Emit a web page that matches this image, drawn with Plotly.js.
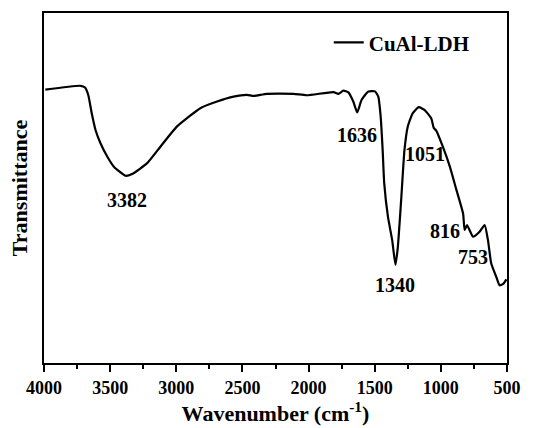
<!DOCTYPE html>
<html>
<head>
<meta charset="utf-8">
<script src="https://cdn.plot.ly/plotly-3.0.1.min.js"></script>
<style>html,body{margin:0;padding:0;background:#fff;}#chart{width:543px;height:428px;}</style>
</head>
<body>
<div id="chart"></div>
<script>
var seriesName = "CuAl-LDH";
var wavenumber = [3990, 3723, 3690, 3665, 3640, 3610, 3573, 3522, 3472, 3384, 3334, 3220, 3120, 2994, 2818, 2692, 2567, 2466, 2416, 2315, 2114, 2014, 1812, 1775, 1737, 1699, 1662, 1632, 1599, 1548, 1498, 1473, 1455, 1440, 1428, 1400, 1368, 1343, 1325, 1300, 1275, 1250, 1212, 1167, 1124, 1073, 1053, 1035, 985, 932, 882, 832, 820, 802, 757, 707, 669, 644, 619, 581, 556, 526, 505];
var transmittance = [78.1, 79.2, 78.7, 76.5, 71.5, 66.5, 62.8, 59.0, 56.1, 53.5, 54.0, 57.1, 61.8, 67.6, 72.8, 74.7, 76.1, 76.6, 76.3, 76.9, 76.9, 76.5, 77.4, 76.9, 77.8, 77.3, 74.7, 71.6, 75.2, 77.6, 77.6, 76.1, 70.4, 60.9, 51.3, 41.8, 35.1, 28.0, 33.2, 46.6, 60.9, 67.6, 71.4, 73.1, 72.3, 69.9, 67.1, 66.4, 61.8, 56.1, 49.4, 42.7, 38.0, 39.4, 36.1, 37.5, 39.4, 35.1, 28.4, 24.6, 22.2, 22.7, 23.9];
var peakLabels = ["3382", "1636", "1051", "1340", "816", "753"];
var peakLabelX = [3372, 1636, 1121, 1347, 970, 757];
var peakLabelY = [46.6, 65.2, 59.7, 22.2, 37.7, 30.3];
var xTickVals = [4000, 3500, 3000, 2500, 2000, 1500, 1000, 500];

var font = "Liberation Serif, Times New Roman, serif";
var annotations = peakLabels.map(function(t, i) {
  return {x: peakLabelX[i], y: peakLabelY[i], text: t, showarrow: false,
    font: {family: font, size: 20, color: "#000", weight: "bold"}};
});

var trace = {x: wavenumber, y: transmittance, type: "scatter", mode: "lines",
  name: seriesName, line: {color: "#000", width: 2.2, shape: "spline", smoothing: 0.5}};

var layout = {
  width: 543, height: 428,
  margin: {l: 44, r: 36, t: 13, b: 65},
  paper_bgcolor: "#fff", plot_bgcolor: "#fff",
  showlegend: true,
  legend: {x: 0.615, y: 0.915, xanchor: "left", yanchor: "middle", bgcolor: "rgba(0,0,0,0)",
    font: {family: font, size: 21, color: "#000", weight: "bold"}},
  xaxis: {range: [4000, 500], tickvals: xTickVals, ticks: "outside", ticklen: 7, tickwidth: 2,
    tickcolor: "#000", showline: true, linecolor: "#000", linewidth: 2, mirror: true,
    showgrid: false, zeroline: false,
    minor: {dtick: 250, tick0: 500, ticks: "outside", ticklen: 4, tickwidth: 2, tickcolor: "#000", showgrid: false},
    tickfont: {family: font, size: 18, color: "#000", weight: "bold"},
    title: {text: "Wavenumber (cm<sup>-1</sup>)", standoff: 8,
      font: {family: font, size: 22, color: "#000", weight: "bold"}}},
  yaxis: {range: [0, 100], showticklabels: false, ticks: "", showline: true, linecolor: "#000",
    linewidth: 2, mirror: true, showgrid: false, zeroline: false,
    title: {text: "Transmittance", standoff: 8,
      font: {family: font, size: 22, color: "#000", weight: "bold"}}},
  annotations: annotations
};

Plotly.newPlot("chart", [trace], layout, {displayModeBar: false, staticPlot: true});
</script>
</body>
</html>
